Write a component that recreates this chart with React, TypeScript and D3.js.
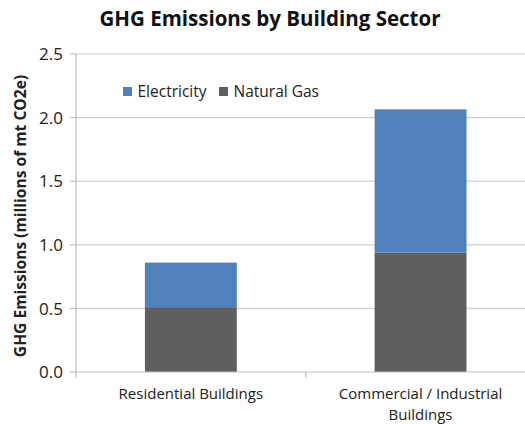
import React from "react";
import * as d3 from "d3";

const categories = ["Residential Buildings", "Commercial / Industrial Buildings"];
const categoryLines = [["Residential Buildings"], ["Commercial / Industrial", "Buildings"]];
const naturalGas = [0.51, 0.94];
const electricity = [0.35, 1.125];
const yTicks = [0, 0.5, 1.0, 1.5, 2.0, 2.5];
const seriesNames = ["Electricity", "Natural Gas"];

const W = 525;
const H = 424;
const FONT = "'Open Sans', 'Noto Sans', sans-serif";
const BLUE = "#4f81bd";
const GRAY = "#5e5f61";

const App = () => {
  const x = d3
    .scaleBand()
    .domain(categories)
    .range([76, 535.4])
    .paddingInner(0.6)
    .paddingOuter(0.3);
  const y = d3.scaleLinear().domain([0, 2.5]).range([372, 54]);

  const rows = categories.map((c, i) => ({ cat: c, gas: naturalGas[i], elec: electricity[i] }));
  const stack = d3.stack<any>().keys(["gas", "elec"])(rows);
  const colors = { gas: GRAY, elec: BLUE };

  const step = x.step();
  const [x0, x1] = x.range();

  return (
    <svg
      width={W}
      height={H}
      style={{ position: "absolute", left: 0, top: 0, background: "#fff" }}
      fontFamily={FONT}
    >
      <text x={270} y={26} textAnchor="middle" fontSize={20.5} fontWeight="bold" fill="#111">
        GHG Emissions by Building Sector
      </text>

      {/* gridlines */}
      {yTicks.slice(1).map((t) => (
        <line key={t} x1={x0} x2={x1} y1={y(t)} y2={y(t)} stroke="#d0d0d0" strokeWidth={1.2} />
      ))}

      {/* bars */}
      {stack.map((s) => (
        <g key={s.key} fill={colors[s.key as "gas" | "elec"]}>
          {s.map((d, i) => (
            <rect
              key={i}
              x={x(d.data.cat)}
              width={x.bandwidth()}
              y={y(d[1])}
              height={y(d[0]) - y(d[1])}
            />
          ))}
        </g>
      ))}

      {/* axes */}
      <line x1={x0} x2={x0} y1={y(0)} y2={y(2.5)} stroke="#bfbfbf" strokeWidth={1.2} />
      <line x1={x0} x2={x1} y1={y(0)} y2={y(0)} stroke="#bfbfbf" strokeWidth={1.2} />
      {yTicks.map((t) => (
        <g key={t}>
          <line x1={70} x2={x0} y1={y(t)} y2={y(t)} stroke="#bfbfbf" strokeWidth={1.2} />
          <text x={63} y={y(t)} dy="0.36em" textAnchor="end" fontSize={17} fill="#222">
            {d3.format(".1f")(t)}
          </text>
        </g>
      ))}
      {[0, 1, 2].map((k) => (
        <line
          key={k}
          x1={x0 + k * step}
          x2={x0 + k * step}
          y1={y(0)}
          y2={y(0) + 6}
          stroke="#bfbfbf"
          strokeWidth={1.2}
        />
      ))}

      {/* category labels, one text per line */}
      {categories.map((c, i) =>
        categoryLines[i].map((line, j) => (
          <text
            key={c + j}
            x={(x(c) as number) + x.bandwidth() / 2}
            y={399 + j * 20.5}
            textAnchor="middle"
            fontSize={15}
            fill="#222"
          >
            {line}
          </text>
        ))
      )}

      {/* y-axis title */}
      <text
        transform={`translate(26,${216}) rotate(-90)`}
        textAnchor="middle"
        fontSize={15.6}
        fontWeight="bold"
        fill="#222"
      >
        GHG Emissions (millions of mt CO2e)
      </text>

      {/* legend */}
      {seriesNames.map((n, i) => {
        const lx = [123, 219][i];
        return (
          <g key={n}>
            <rect x={lx} y={87} width={9} height={9} fill={i === 0 ? BLUE : GRAY} />
            <text x={lx + 14.5} y={96.5} fontSize={15.5} fill="#222">
              {n}
            </text>
          </g>
        );
      })}
    </svg>
  );
};

export default App;
